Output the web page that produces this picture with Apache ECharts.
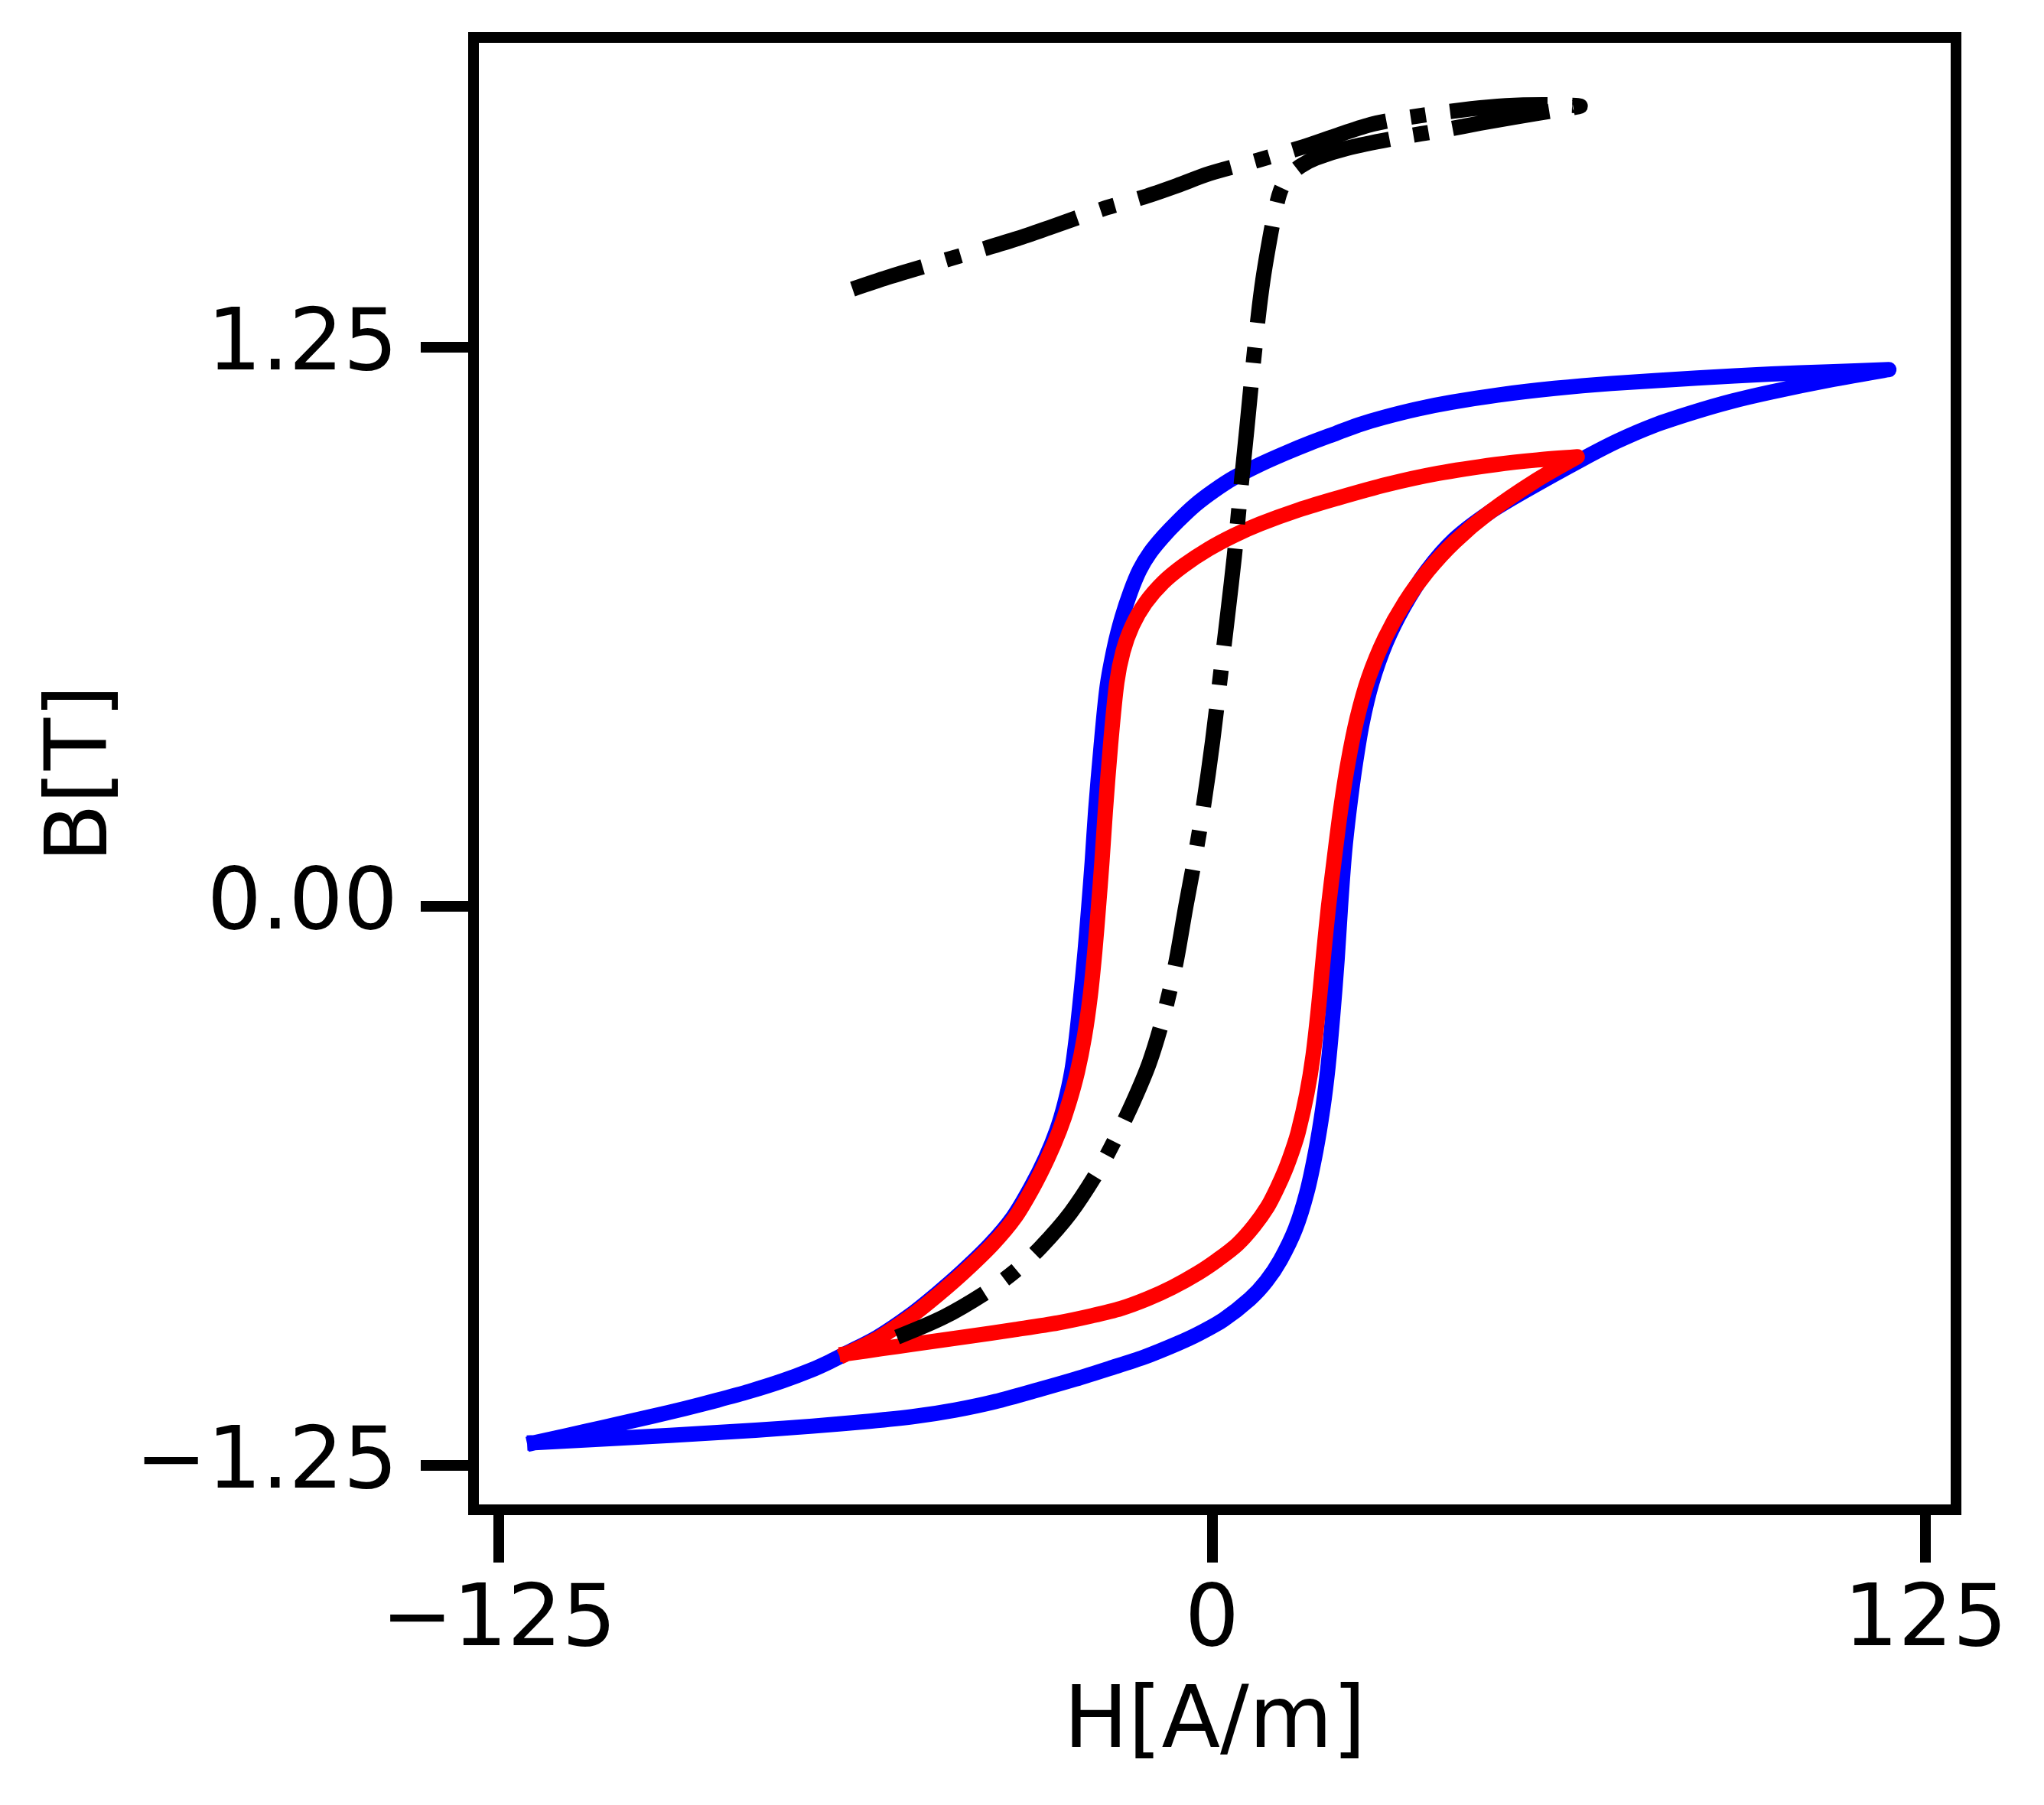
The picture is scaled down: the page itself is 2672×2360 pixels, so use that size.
<!DOCTYPE html>
<html>
<head>
<meta charset="utf-8">
<script src="https://cdn.jsdelivr.net/npm/echarts@6/dist/echarts.min.js"></script>
<style>
html,body{margin:0;padding:0;background:#fff;}
#c{width:2672px;height:2360px;}
</style>
</head>
<body>
<div id="c"></div>
<script>
// ---- data (H [A/m], B [T]) ----
const xTicks = [-125, 0, 125];
const yTicks = [-1.25, 0, 1.25];

// blue major loop: ascending branch (left tip -> right tip)
const blueAscending = [
  [-118.7,-1.199],[-110,-1.193],[-100,-1.186],[-90,-1.179],[-80,-1.171],[-70,-1.162],
  [-60,-1.151],[-52,-1.14],[-45,-1.126],[-38,-1.107],[-30,-1.079],[-24,-1.057],
  [-18,-1.033],[-12,-1.008],[-6,-0.977],[-2.3,-0.955],[2,-0.924],[6.6,-0.878],
  [9.5,-0.838],[12,-0.79],[14.6,-0.721],[16.6,-0.64],[18.2,-0.545],[19.4,-0.452],
  [20.3,-0.36],[21.1,-0.25],[21.9,-0.12],[22.5,0.0],[23.2,0.12],[24.0,0.214],
  [25.0,0.31],[26.3,0.41],[28.0,0.5],[30.5,0.59],[33.6,0.67],[37.6,0.75],[42.4,0.82],
  [48.5,0.88],[55,0.93],[64.9,1.0],[71,1.04],[77.4,1.075],[84.2,1.104],[91,1.129],
  [98,1.15],[108,1.176],[118.6,1.2]
];
// blue major loop: descending branch (right tip -> left tip)
const blueDescending = [
  [118.6,1.2],[108,1.195],[98,1.19],[85,1.181],[70,1.169],[60,1.158],[50,1.143],
  [42,1.127],[36,1.112],[30,1.093],[25.8,1.077],[21.8,1.058],[17.2,1.036],[12.8,1.013],
  [8.4,0.988],[3.8,0.958],[0.3,0.929],[-2.9,0.898],[-6.0,0.861],[-8.6,0.826],
  [-10.9,0.79],[-12.7,0.752],[-14.3,0.703],[-15.8,0.645],[-17.1,0.58],[-18.4,0.49],
  [-19.5,0.35],[-20.4,0.214],[-21.0,0.1],[-21.6,0.0],[-22.25,-0.1],[-23.0,-0.2],
  [-23.75,-0.29],[-24.6,-0.37],[-25.8,-0.44],[-27.2,-0.5],[-29.2,-0.563],
  [-31.8,-0.629],[-34.9,-0.695],[-38.9,-0.756],[-43.9,-0.818],[-48.3,-0.867],
  [-52.9,-0.914],[-58.6,-0.963],[-64.2,-1.0],[-67,-1.018],[-70.3,-1.037],
  [-75.3,-1.061],[-81,-1.084],[-86.7,-1.104],[-92.5,-1.123],[-98.1,-1.14],
  [-104,-1.157],[-109.5,-1.173],[-118.7,-1.199]
];
// red minor loop
const redAscending = [
  [-64,-1.0],[-58,-0.989],[-52.5,-0.979],[-43,-0.962],[-34.5,-0.946],[-27,-0.931],
  [-21,-0.915],[-16,-0.899],[-11.3,-0.877],[-7,-0.852],[-2.5,-0.82],[1,-0.79],
  [4.4,-0.756],[7.3,-0.715],[9.7,-0.672],[11.4,-0.63],[12.8,-0.59],[14.1,-0.545],
  [15.1,-0.504],[16.6,-0.419],[17.7,-0.333],[18.7,-0.22],[19.6,-0.1],[20.4,0.0],
  [21.4,0.105],[22.5,0.214],[23.8,0.32],[25.4,0.42],[27.4,0.51],[30.3,0.6],[33.8,0.68],
  [37.8,0.75],[42.5,0.815],[48.5,0.88],[56.5,0.95],[64,1.005]
];
const redDescending = [
  [64,1.005],[57,0.998],[49.8,0.988],[39.6,0.968],[30.6,0.943],[21.8,0.912],
  [15.1,0.886],[8.4,0.855],[3.8,0.829],[-0.6,0.799],[-5.0,0.762],[-8.6,0.724],
  [-11.7,0.678],[-14.0,0.627],[-15.6,0.57],[-16.7,0.5],[-17.8,0.36],[-18.7,0.214],
  [-19.3,0.1],[-19.9,0.0],[-20.55,-0.1],[-21.35,-0.2],[-22.35,-0.29],[-23.6,-0.37],
  [-25.1,-0.44],[-26.7,-0.5],[-28.8,-0.563],[-31.4,-0.629],[-34.5,-0.695],
  [-38.5,-0.756],[-43.5,-0.818],[-47.9,-0.867],[-52.5,-0.914],[-58.2,-0.963],[-64,-1.0]
];
// black dash-dot curve
const blackCurve = [
  [-55.2,-0.963],[-47,-0.918],[-39.5,-0.862],[-34.5,-0.815],[-30.1,-0.763],
  [-24.8,-0.685],[-20.0,-0.592],[-16.8,-0.516],[-13.8,-0.436],[-11.0,-0.35],
  [-8.6,-0.25],[-6.4,-0.13],[-4.6,0.0],[-3.0,0.11],[-1.5,0.225],[0.1,0.37],
  [1.5,0.52],[2.8,0.66],[3.9,0.783],[5.0,0.93],[6.1,1.069],[7.1,1.2],[8.1,1.32],
  [8.9,1.4],[9.8,1.47],[10.9,1.545],[12.0,1.6],[13.5,1.633],[15.5,1.655],
  [18.2,1.673],[23.7,1.695],[32,1.717],[41.2,1.737],[47,1.751],[53.2,1.765],
  [60,1.779],[64.5,1.789],[58,1.792],[51.5,1.79],[45.4,1.783],[35,1.765],
  [28.1,1.749],[22.2,1.725],[16,1.698],[8,1.668],[-0.5,1.638],[-6.2,1.611],
  [-11.9,1.586],[-18.5,1.562],[-28.6,1.517],[-34.1,1.493],[-40,1.47],[-48,1.44],
  [-56.9,1.406],[-63,1.38]
];

const xRange = [-129.42, 130.36];
const yRange = [-1.349, 1.9425];

// ---- chart ----
const chart = echarts.init(document.getElementById('c'), null, {renderer: 'canvas'});
const FONT = 'DejaVu Sans';
const fmtMinus = s => s.replace('-', '\u2212');

const option = {
  animation: false,
  backgroundColor: '#fff',
  grid: {
    left: 619, right: 2672 - 2557, top: 49, bottom: 2360 - 1974,
    show: true, borderColor: '#000', borderWidth: 14, backgroundColor: 'transparent'
  },
  xAxis: {
    type: 'value', min: xRange[0], max: xRange[1],
    name: 'H[A/m]', nameLocation: 'middle', nameGap: 225,
    nameTextStyle: {fontFamily: FONT, fontSize: 112, color: '#000'},
    axisLine: {show: true, onZero: false, lineStyle: {color: '#000', width: 14}},
    splitLine: {show: false},
    axisTick: {show: true, length: 69, inside: false, customValues: xTicks,
      lineStyle: {color: '#000', width: 14}},
    axisLabel: {show: true, margin: 92, customValues: xTicks,
      fontFamily: FONT, fontSize: 112, color: '#000',
      formatter: v => fmtMinus(String(Math.round(v)))}
  },
  yAxis: {
    type: 'value', min: yRange[0], max: yRange[1],
    name: 'B[T]', nameLocation: 'middle', nameGap: 430,
    nameTextStyle: {fontFamily: FONT, fontSize: 112, color: '#000'},
    axisLine: {show: true, onZero: false, lineStyle: {color: '#000', width: 14}},
    splitLine: {show: false},
    axisTick: {show: true, length: 69, inside: false, customValues: yTicks,
      lineStyle: {color: '#000', width: 14}},
    axisLabel: {show: true, margin: 99, customValues: yTicks,
      fontFamily: FONT, fontSize: 112, color: '#000',
      formatter: v => fmtMinus(v.toFixed(2))}
  },
  series: [
    {
      type: 'line', name: 'major', showSymbol: false, symbol: 'none', smooth: 0.3,
      data: blueAscending.concat(blueDescending.slice(1)),
      lineStyle: {color: '#0000ff', width: 20, cap: 'square', join: 'round'}
    },
    {
      type: 'line', name: 'minor', showSymbol: false, symbol: 'none', smooth: 0.3,
      data: redAscending.concat(redDescending.slice(1)),
      lineStyle: {color: '#ff0000', width: 20, cap: 'square', join: 'round'}
    },
    {
      type: 'line', name: 'initial', showSymbol: false, symbol: 'none', smooth: 0.3,
      data: blackCurve,
      lineStyle: {color: '#000', width: 20, type: [128, 32, 20, 32], cap: 'butt', join: 'round'}
    }
  ]
};
chart.setOption(option);
</script>
</body>
</html>
